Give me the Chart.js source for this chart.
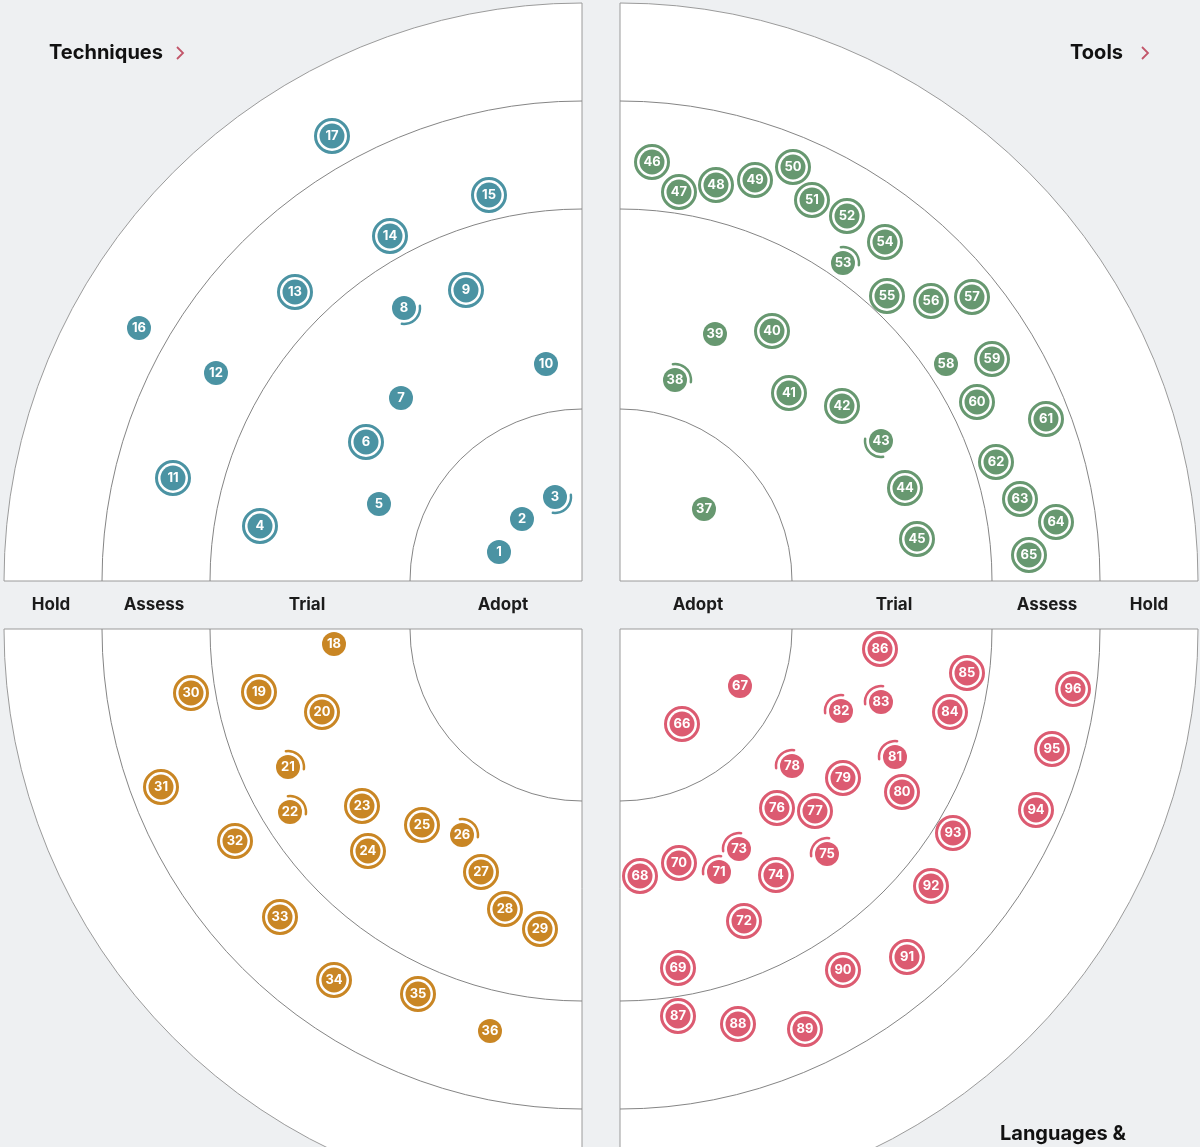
<!DOCTYPE html>
<html>
<head>
<meta charset="utf-8">
<script src="https://cdn.jsdelivr.net/npm/chart.js@4.4.1/dist/chart.umd.min.js"></script>
<style>
  html, body { margin: 0; padding: 0; background: #eef0f2; }
  #wrap { width: 1200px; height: 1147px; position: relative; }
</style>
</head>
<body>
<div id="wrap"><canvas id="radar"></canvas></div>
<script>
// ---------------- DATA ----------------
const quadrantNames = ['Techniques', 'Tools', 'Platforms', 'Languages & Frameworks'];
const ringNames = ['Adopt', 'Trial', 'Assess', 'Hold'];

// Techniques (1-17)
const techIds    = [1, 2, 3, 4, 5, 6, 7, 8, 9, 10, 11, 12, 13, 14, 15, 16, 17];
const techX      = [499, 522, 555, 260, 379, 366, 401, 404, 466, 546, 173, 216, 295, 390, 489, 139, 332];
const techY      = [552, 519, 497, 526, 504, 442, 398, 308, 290, 364, 478, 373, 292, 236, 195, 328, 136];
const techStatus = ['none','none','in','new','none','new','none','in','new','none','new','none','new','new','new','none','new'];

// Tools (37-65)
const toolIds    = [37, 38, 39, 40, 41, 42, 43, 44, 45, 46, 47, 48, 49, 50, 51, 52, 53, 54, 55, 56, 57, 58, 59, 60, 61, 62, 63, 64, 65];
const toolX      = [704, 675, 715, 772, 789, 842, 881, 905, 917, 652, 679, 716, 755, 793, 812, 847, 843, 885, 887, 931, 972, 946, 992, 977, 1046, 996, 1020, 1056, 1029];
const toolY      = [509, 380, 334, 331, 393, 406, 441, 488, 539, 162, 192, 185, 180, 167, 200, 216, 263, 242, 296, 301, 297, 364, 359, 402, 419, 462, 499, 522, 555];
const toolStatus = ['none','out','none','new','new','new','in','new','new','new','new','new','new','new','new','new','out','new','new','new','new','none','new','new','new','new','new','new','new'];

// Platforms (18-36)
const platIds    = [18, 19, 20, 21, 22, 23, 24, 25, 26, 27, 28, 29, 30, 31, 32, 33, 34, 35, 36];
const platX      = [334, 259, 322, 288, 290, 362, 368, 422, 462, 481, 505, 540, 191, 161, 235, 280, 334, 418, 490];
const platY      = [644, 692, 712, 767, 812, 806, 851, 825, 835, 872, 909, 929, 693, 787, 841, 917, 980, 994, 1031];
const platStatus = ['none','new','new','in','in','new','new','new','in','new','new','new','new','new','new','new','new','new','none'];

// Languages & Frameworks (66-96)
const langIds    = [66, 67, 68, 69, 70, 71, 72, 73, 74, 75, 76, 77, 78, 79, 80, 81, 82, 83, 84, 85, 86, 87, 88, 89, 90, 91, 92, 93, 94, 95, 96];
const langX      = [682, 740, 640, 678, 679, 719, 744, 739, 776, 827, 777, 815, 792, 843, 902, 895, 841, 881, 950, 967, 880, 678, 738, 805, 843, 907, 931, 953, 1036, 1052, 1073];
const langY      = [724, 686, 876, 968, 863, 872, 921, 849, 875, 854, 808, 811, 766, 778, 792, 757, 711, 702, 712, 673, 649, 1016, 1024, 1029, 970, 957, 886, 833, 810, 749, 689];
const langStatus = ['new','none','new','new','new','in','new','in','new','in','new','new','in','new','new','in','in','in','new','new','new','new','new','new','new','new','new','new','new','new','new'];

// ---------------- LAYOUT / STYLE ----------------
const ringRadii = [172, 372, 480, 578];
const quadrants = [
  { cx: 582, cy: 581, a0: Math.PI,       a1: 1.5 * Math.PI, inDir: Math.PI / 4,        color: '#4b93a3' },
  { cx: 620, cy: 581, a0: 1.5 * Math.PI, a1: 2 * Math.PI,   inDir: 3 * Math.PI / 4,    color: '#679870' },
  { cx: 582, cy: 629, a0: 0.5 * Math.PI, a1: Math.PI,       inDir: -Math.PI / 4,       color: '#c98624' },
  { cx: 620, cy: 629, a0: 0,             a1: 0.5 * Math.PI, inDir: -3 * Math.PI / 4,   color: '#dc5b71' }
];
const FONT = 'Inter, "Open Sans", "DejaVu Sans", sans-serif';

function mkData(xs, ys, ids, st) {
  return xs.map((x, i) => ({ x: x, y: ys[i], id: ids[i], status: st[i] }));
}
const datasets = [
  { label: quadrantNames[0], data: mkData(techX, techY, techIds, techStatus), q: 0 },
  { label: quadrantNames[1], data: mkData(toolX, toolY, toolIds, toolStatus), q: 1 },
  { label: quadrantNames[2], data: mkData(platX, platY, platIds, platStatus), q: 2 },
  { label: quadrantNames[3], data: mkData(langX, langY, langIds, langStatus), q: 3 }
].map(ds => Object.assign(ds, {
  backgroundColor: quadrants[ds.q].color,
  borderWidth: 0,
  pointRadius: ctx => (ctx.raw && ctx.raw.status === 'new') ? 12.5 : 12,
  pointHoverRadius: ctx => (ctx.raw && ctx.raw.status === 'new') ? 12.5 : 12
}));

const radarPlugin = {
  id: 'radarBackground',
  beforeDatasetsDraw(chart) {
    const { ctx, scales: { x, y } } = chart;
    ctx.save();
    quadrants.forEach(q => {
      const px = x.getPixelForValue(q.cx), py = y.getPixelForValue(q.cy);
      const rp = r => x.getPixelForValue(q.cx + r) - px;
      const R = rp(ringRadii[3]);
      ctx.beginPath();
      ctx.moveTo(px, py);
      ctx.arc(px, py, R, q.a0, q.a1);
      ctx.closePath();
      ctx.fillStyle = '#ffffff';
      ctx.fill();
      ctx.lineWidth = 1;
      ctx.strokeStyle = '#9a9a9a';
      ctx.stroke();
      for (let i = 0; i < 3; i++) {
        ctx.beginPath();
        ctx.arc(px, py, rp(ringRadii[i]), q.a0, q.a1);
        ctx.strokeStyle = '#858585';
        ctx.stroke();
      }
    });
    // ring labels
    ctx.fillStyle = '#1b1b1b';
    ctx.font = '700 17px ' + FONT;
    ctx.textAlign = 'center';
    ctx.textBaseline = 'middle';
    const ly = y.getPixelForValue(605);
    const leftPos = [503, 307, 154, 51];
    const rightPos = [698, 894, 1047, 1149];
    ringNames.forEach((n, i) => {
      ctx.fillText(n, x.getPixelForValue(leftPos[i]), ly);
      ctx.fillText(n, x.getPixelForValue(rightPos[i]), ly);
    });
    // quadrant titles
    ctx.font = '700 20px ' + FONT;
    ctx.textAlign = 'left';
    ctx.fillStyle = '#111111';
    ctx.fillText(quadrantNames[0], x.getPixelForValue(49), y.getPixelForValue(53));
    ctx.textAlign = 'right';
    ctx.fillText(quadrantNames[1], x.getPixelForValue(1123), y.getPixelForValue(53));
    ctx.textAlign = 'left';
    ctx.fillText('Languages &', x.getPixelForValue(1000), y.getPixelForValue(1134));
    ctx.fillText('Frameworks', x.getPixelForValue(1000), y.getPixelForValue(1160));
    ctx.fillText(quadrantNames[2], x.getPixelForValue(49), y.getPixelForValue(1172));
    // chevrons
    const chev = (cxv, cyv) => {
      const cxp = x.getPixelForValue(cxv), cyp = y.getPixelForValue(cyv);
      ctx.beginPath();
      ctx.moveTo(cxp - 3, cyp - 6);
      ctx.lineTo(cxp + 3, cyp);
      ctx.lineTo(cxp - 3, cyp + 6);
      ctx.strokeStyle = '#c2566a';
      ctx.lineWidth = 1.8;
      ctx.stroke();
    };
    chev(180, 53);
    chev(1145, 53);
    ctx.restore();
  },
  afterDatasetsDraw(chart) {
    const { ctx } = chart;
    ctx.save();
    chart.data.datasets.forEach((ds, di) => {
      const meta = chart.getDatasetMeta(di);
      const q = quadrants[ds.q];
      meta.data.forEach((el, i) => {
        const d = ds.data[i];
        ctx.strokeStyle = q.color;
        if (d.status === 'new') {
          ctx.beginPath();
          ctx.arc(el.x, el.y, 16.5, 0, 2 * Math.PI);
          ctx.lineWidth = 3;
          ctx.stroke();
        } else if (d.status === 'in' || d.status === 'out') {
          const dir = d.status === 'in' ? q.inDir : q.inDir + Math.PI;
          ctx.beginPath();
          ctx.arc(el.x, el.y, 16, dir - 0.92, dir + 0.92);
          ctx.lineWidth = 2.5;
          ctx.lineCap = 'round';
          ctx.stroke();
        }
        ctx.fillStyle = '#ffffff';
        ctx.font = '700 13px ' + FONT;
        ctx.textAlign = 'center';
        ctx.textBaseline = 'middle';
        ctx.fillText(String(d.id), el.x, el.y + 0.5);
      });
    });
    ctx.restore();
  }
};

new Chart(document.getElementById('radar'), {
  type: 'scatter',
  data: { datasets: datasets },
  options: {
    responsive: true,
    maintainAspectRatio: false,
    animation: false,
    layout: { padding: 0, autoPadding: false },
    events: [],
    plugins: { legend: { display: false }, tooltip: { enabled: false } },
    scales: {
      x: { type: 'linear', min: 0, max: 1200, display: false },
      y: { type: 'linear', min: 0, max: 1147, reverse: true, display: false }
    }
  },
  plugins: [radarPlugin]
});
</script>
</body>
</html>
